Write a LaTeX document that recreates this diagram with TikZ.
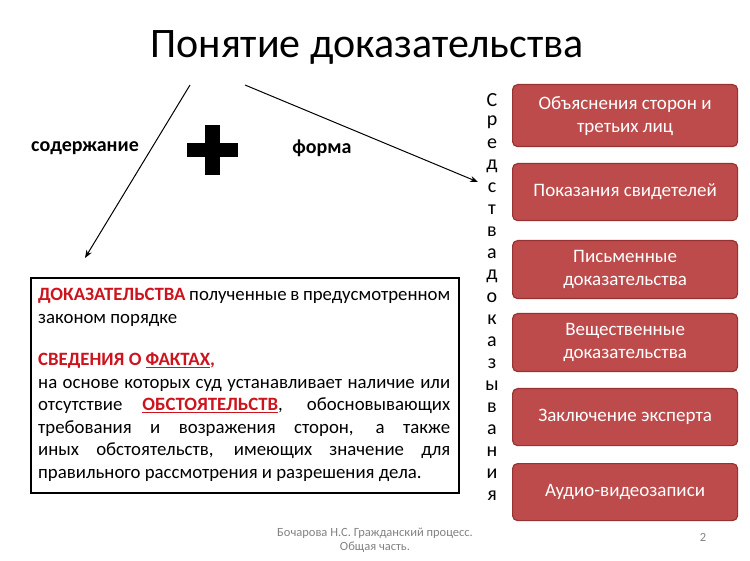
\documentclass[tikz,border=0pt]{standalone}
\usepackage{fontspec}
\setmainfont{Carlito}
\usetikzlibrary{arrows.meta}
\definecolor{boxred}{RGB}{190,75,75}
\definecolor{boxedge}{RGB}{150,50,50}
\definecolor{txtred}{RGB}{205,20,30}
\definecolor{foot}{RGB}{130,130,130}
\tikzset{
  means/.style={draw=boxedge,line width=1.2pt,fill=boxred,rounded corners=5pt,minimum width=225pt,text=white,font=\fontsize{19}{23}\selectfont,align=center,anchor=north west},
  arr/.style={-{Stealth[length=8pt,width=6pt]},line width=1pt},
  lbl/.style={font=\fontsize{20}{24}\selectfont\bfseries}
}
\begin{document}
\begin{tikzpicture}[x=1pt,y=-1pt]
\useasboundingbox (0,0) rectangle (750,561);
\node[font=\fontsize{42}{46}\selectfont] (title) at (367,47) {Понятие доказательства};
\coordinate (a1) at (190,85);
\coordinate (a2) at (245,85);
\coordinate (e1) at (85,258);
\coordinate (e2) at (478,182);
\draw[arr] (a1) -- (e1);
\draw[arr] (a2) -- (e2);
\node[lbl] (cont) at (85,148) {содержание};
\node[lbl] (form) at (322,148) {форма};
\fill (205,125) rectangle (220,175);
\fill (187,143) rectangle (238,157);
\node[draw,line width=1.6pt,anchor=north west,minimum width=428pt,minimum height=215pt,inner sep=0pt] (box) at (30,277) {};
\node[anchor=north west,text width=412pt,align=justify,inner sep=0pt,font=\fontsize{18.8}{22.5}\selectfont] (btext) at (38,288) {%
{\color{txtred}\bfseries ДОКАЗАТЕЛЬСТВА} полученные в предусмотренном законом порядке\par
\vspace{20pt}
{\color{txtred}\bfseries СВЕДЕНИЯ О \underline{ФАКТАХ},}\par
на основе которых суд устанавливает наличие или отсутствие {\color{txtred}\bfseries\underline{ОБСТОЯТЕЛЬСТВ}}, обосновывающих требования и возражения сторон, а также иных обстоятельств, имеющих значение для правильного рассмотрения и разрешения дела.};
\foreach \l [count=\i from 0] in {С,р,е,д,с,т,в,а,д,о,к,а,з,ы,в,а,н,и,я}
  \node[font=\fontsize{20}{24}\selectfont] (v\i) at (492,{100+\i*22}) {\l};
\node[means,minimum height=62pt] (m1) at (512,84) {Объяснения сторон и\\третьих лиц};
\node[means,minimum height=57pt] (m2) at (512,163) {Показания свидетелей};
\node[means,minimum height=58pt] (m3) at (512,240) {Письменные\\доказательства};
\node[means,minimum height=58pt] (m4) at (512,313) {Вещественные\\доказательства};
\node[means,minimum height=57pt] (m5) at (512,388) {Заключение эксперта};
\node[means,minimum height=57pt] (m6) at (512,463) {Аудио-видеозаписи};
\node[text=foot,align=center,font=\fontsize{12.5}{14}\selectfont] (ft) at (375,540) {Бочарова Н.С. Гражданский процесс.\\Общая часть.};
\node[text=foot,font=\fontsize{12.5}{14}\selectfont] (pg) at (703,537) {2};
\end{tikzpicture}
\end{document}
